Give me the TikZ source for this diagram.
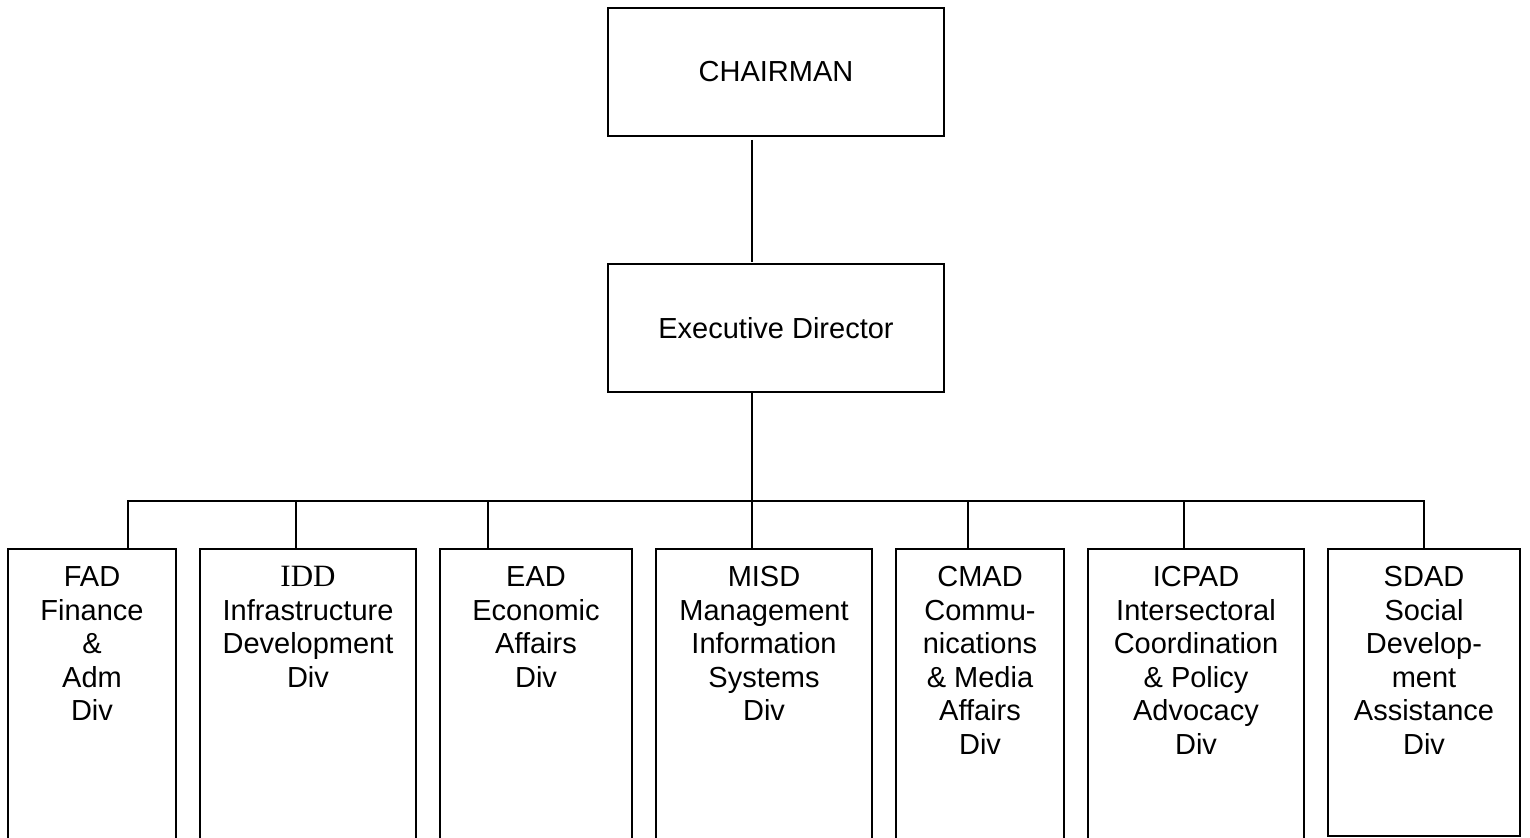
\documentclass[tikz,border=0pt]{standalone}
\usepackage{fontspec}
\setmainfont{Liberation Sans}
\newfontfamily\timesfont{Liberation Serif}
\usepackage{tikz}
\usetikzlibrary{positioning}

\begin{document}
\begin{tikzpicture}[x=0.5pt, y=-0.5pt,
    topbox/.style={draw, rectangle, line width=1pt, minimum width=168pt, minimum height=64pt, inner sep=0pt, outer sep=0pt, font=\fontsize{14.5}{16.75}\selectfont},
    divbox/.style={draw, rectangle, line width=1pt, minimum height=148pt, inner sep=0pt, outer sep=0pt},
    divtext/.style={anchor=north, align=center, inner sep=0pt, font=\fontsize{14.5}{16.75}\selectfont},
    link/.style={line width=0.8pt}]
    \fill[white] (0,0) rectangle (1530,838);
    \useasboundingbox (0,0) rectangle (1530,838);
    \clip (0,0) rectangle (1530,838);

    \node (chair) [topbox] at (776,72) {CHAIRMAN};
    \node (exec) [topbox, below=64pt of chair] {Executive Director};

    % divisions
    \node (fad) [divbox, minimum width=84pt, anchor=north west] at (8,549) {};
    \node (idd) [divbox, minimum width=108pt, right=12pt of fad.north east, anchor=north west] {};
    \node (ead) [divbox, minimum width=96pt, right=12pt of idd.north east, anchor=north west] {};
    \node (misd) [divbox, minimum width=108pt, right=12pt of ead.north east, anchor=north west] {};
    \node (cmad) [divbox, minimum width=84pt, right=12pt of misd.north east, anchor=north west] {};
    \node (icpad) [divbox, minimum width=108pt, right=12pt of cmad.north east, anchor=north west] {};
    \node (sdad) [divbox, minimum width=96pt, minimum height=143.5pt, right=12pt of icpad.north east, anchor=north west] {};

    \node (fadtxt) [divtext] at ([yshift=-8.6pt]fad.north) {FAD\\Finance\\\&\\Adm\\Div};
    \node (iddtxt) [divtext] at ([yshift=-8.6pt]idd.north) {{\timesfont\fontsize{15.5}{16.75}\selectfont IDD}\\Infrastructure\\Development\\Div};
    \node (eadtxt) [divtext] at ([yshift=-8.6pt]ead.north) {EAD\\Economic\\Affairs\\Div};
    \node (misdtxt) [divtext] at ([yshift=-8.6pt]misd.north) {MISD\\Management\\Information\\Systems\\Div};
    \node (cmadtxt) [divtext] at ([yshift=-8.6pt]cmad.north) {CMAD\\Commu-\\nications\\\& Media\\Affairs\\Div};
    \node (icpadtxt) [divtext] at ([yshift=-8.6pt]icpad.north) {ICPAD\\Intersectoral\\Coordination\\\& Policy\\Advocacy\\Div};
    \node (sdadtxt) [divtext] at ([yshift=-8.6pt]sdad.north) {SDAD\\Social\\Develop-\\ment\\Assistance\\Div};

    % lines
    \coordinate (trunk) at (752,501);
    \draw[link, shorten <=2pt, shorten >=1pt] (chair.south -| trunk) -- (exec.north -| trunk);
    \draw[link] (exec.south -| trunk) -- (misd.north -| trunk);
    \draw[link] ([xshift=18pt]fad.north) |- (trunk) -| (sdad.north);
    \draw[link] ([xshift=-6pt]idd.north) -- ([xshift=-6pt]idd.north |- trunk);
    \draw[link] ([xshift=-24pt]ead.north) -- ([xshift=-24pt]ead.north |- trunk);
    \draw[link] ([xshift=-6pt]cmad.north) -- ([xshift=-6pt]cmad.north |- trunk);
    \draw[link] ([xshift=-6pt]icpad.north) -- ([xshift=-6pt]icpad.north |- trunk);
\end{tikzpicture}
\end{document}
